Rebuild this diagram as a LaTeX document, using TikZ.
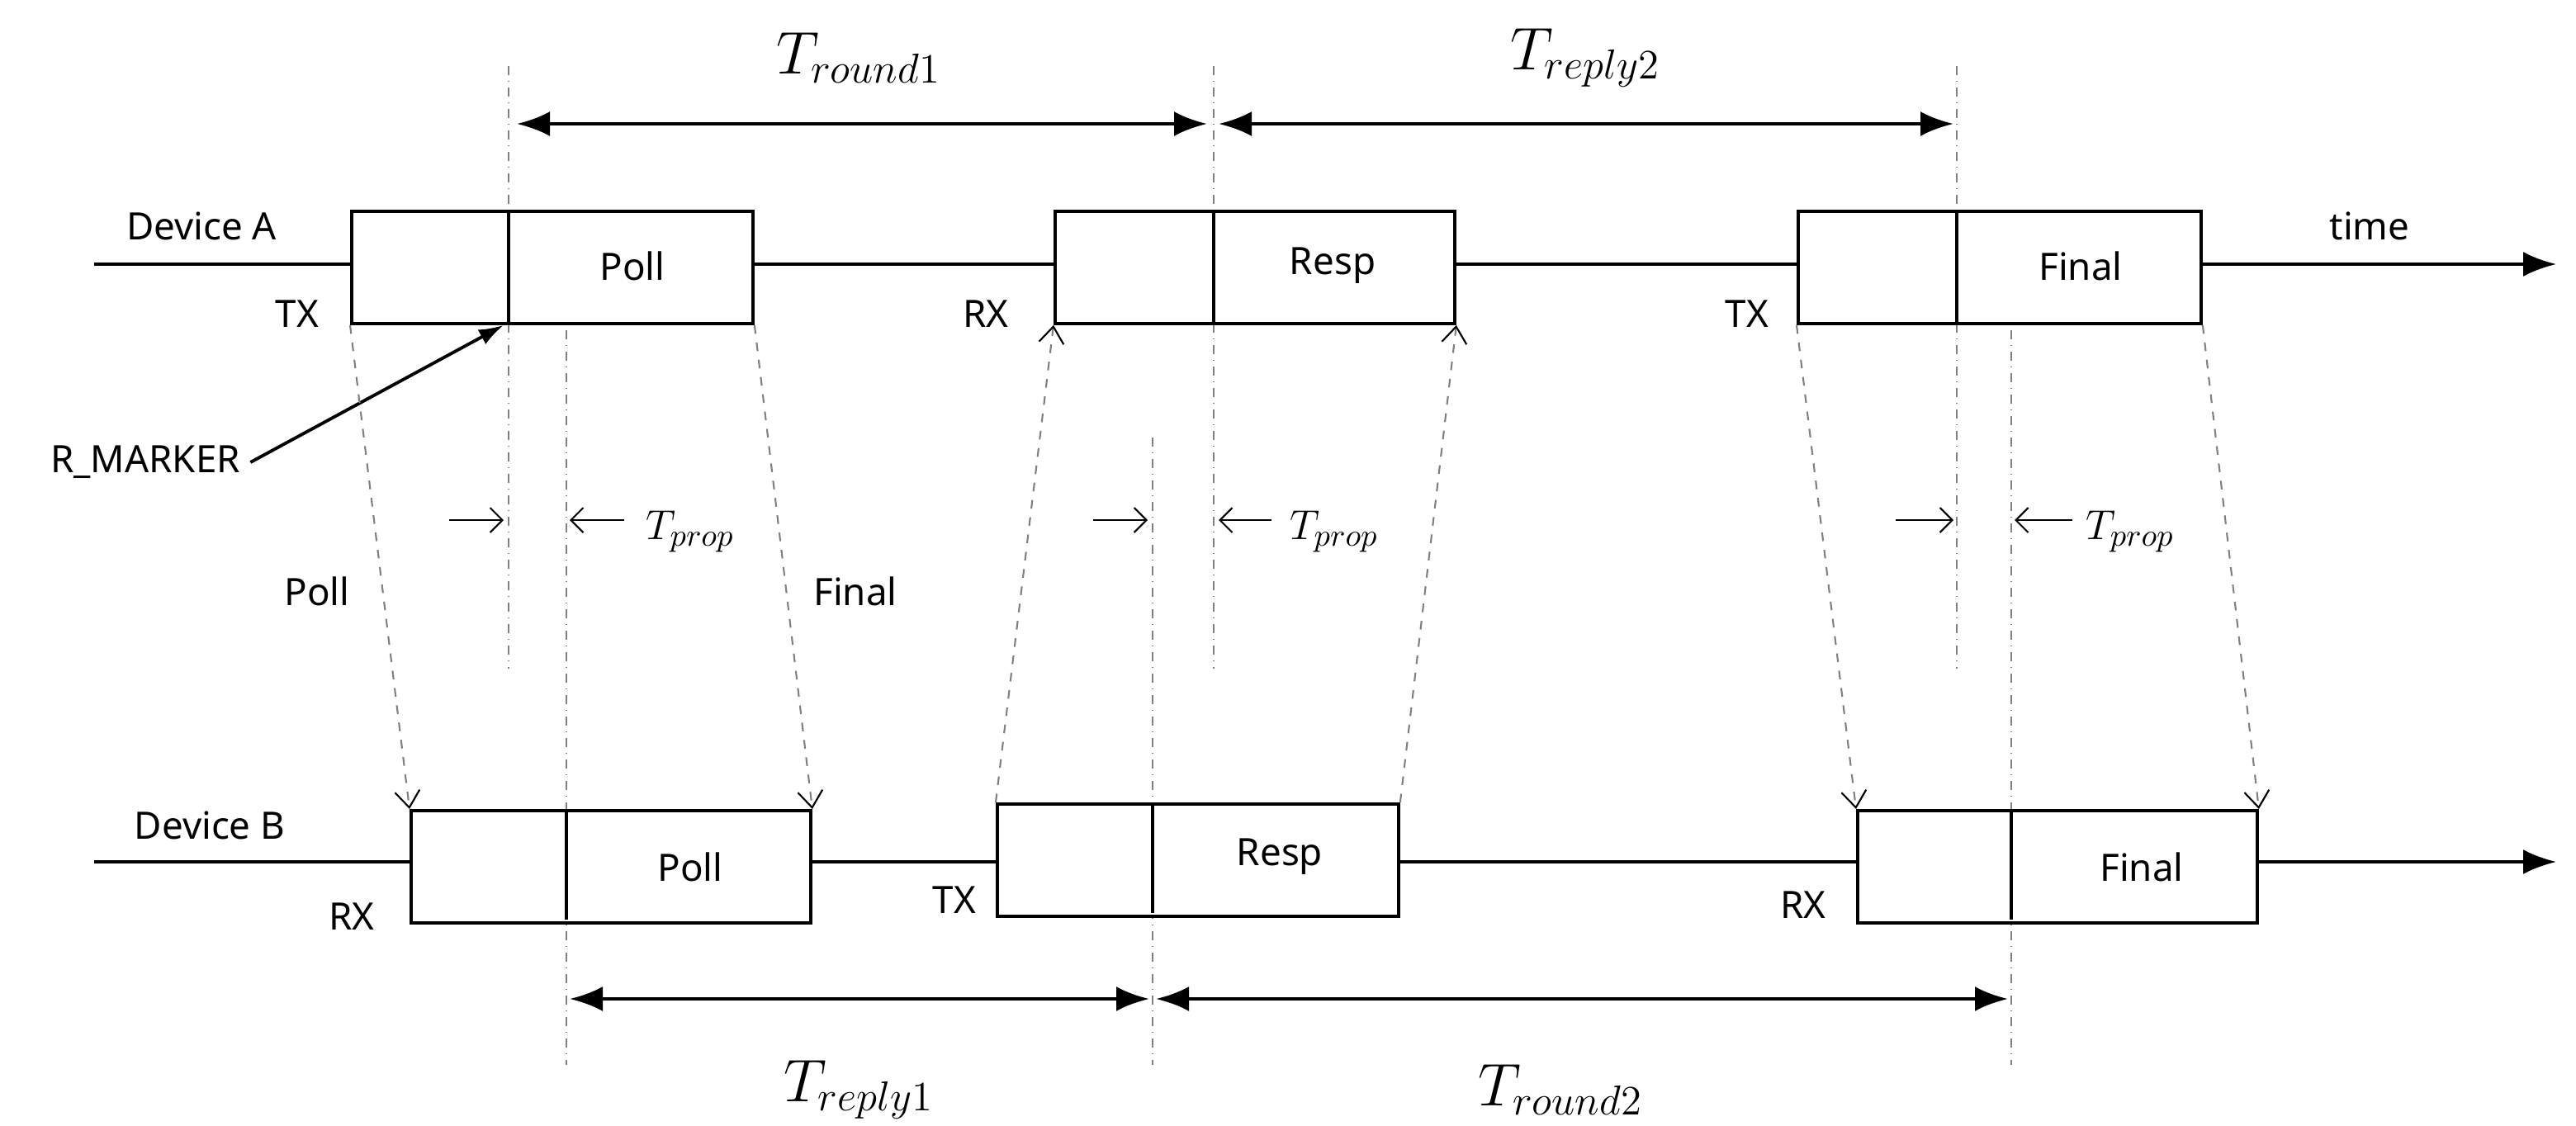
\documentclass[tikz,border=0pt]{standalone}
\usepackage{fontspec}
\setmainfont{Noto Sans}
\usetikzlibrary{arrows.meta}
\begin{document}
\begin{tikzpicture}[x=0.2mm,y=-0.2mm,
  box/.style={draw,line width=1.1pt,minimum height=13.6mm,inner sep=0pt,anchor=north west,fill=white},
  lbl/.style={font=\fontsize{13}{15}\selectfont},
  tl/.style={font=\fontsize{22}{24}\selectfont},
  vl/.style={gray,dash dot,line width=0.6pt},
  sl/.style={gray,dashed,line width=0.6pt,-{Straight Barb[length=2mm,width=3mm,black]}},
  dim/.style={line width=1.3pt,{Latex[length=4mm,width=3mm]}-{Latex[length=4mm,width=3mm]}},
  tp/.style={-{Straight Barb[length=1.5mm,width=3mm]},line width=0.6pt}]
\useasboundingbox (0,0) rectangle (1560,682);
% vertical dash-dot lines
\foreach \x in {308,735,1185}{\draw[vl] (\x,40) -- (\x,405);}
\foreach \x in {343,1218}{\draw[vl] (\x,200) -- (\x,645);}
\draw[vl] (698,265) -- (698,645);
% timelines
\coordinate (a0) at (57,160); \coordinate (a1) at (1548,160);
\coordinate (b0) at (57,522); \coordinate (b1) at (1548,522);
\draw[line width=1.1pt,-{Latex[length=4mm,width=3mm]}] (a0) -- (a1);
\draw[line width=1.1pt,-{Latex[length=4mm,width=3mm]}] (b0) -- (b1);
% boxes A
\node[box,minimum width=48.6mm] (pa) at (212,127) {};
\node[box,minimum width=48.4mm] (ra) at (638,127) {};
\node[box,minimum width=48.8mm] (fa) at (1088,127) {};
\draw[line width=1.1pt] (308,127) -- (308,195) (735,127)--(735,195) (1185,127)--(1185,195);
\node[lbl] at (383,161) {Poll};
\node[lbl] at (807,161) {Resp};
\node[lbl] at (1260,161) {Final};
% boxes B
\node[box,minimum width=48.4mm] (pb) at (248,490) {};
\node[box,minimum width=48.6mm] (rb) at (603,486) {};
\node[box,minimum width=48.4mm] (fb) at (1124,490) {};
\draw[line width=1.1pt] (343,490) -- (343,557) (698,486)--(698,553) (1218,490)--(1218,557);
\node[lbl] at (418,525) {Poll};
\node[lbl] at (775,519) {Resp};
\node[lbl] at (1297,525) {Final};
% labels
\node[lbl] at (122,137) {Device A};
\node[lbl] at (127,500) {Device B};
\node[lbl] at (180,190) {TX};
\node[lbl] at (597,190) {RX};
\node[lbl] at (1058,190) {TX};
\node[lbl] at (1435,137) {time};
\node[lbl] at (213,555) {RX};
\node[lbl] at (578,545) {TX};
\node[lbl] at (1092,548) {RX};
\node[lbl] at (192,358) {Poll};
\node[lbl] at (518,358) {Final};
\node[lbl] (rm) at (88,280) {R\_MARKER};
\draw[line width=1.1pt,-{Latex[length=3mm,width=2mm]}] (rm.east) -- (pa.south west -| 305,197);
% slanted
\draw[sl] (pa.south west) -- (pb.north west);
\draw[sl] (pa.south east) -- (pb.north east);
\draw[sl] (rb.north west) -- (ra.south west);
\draw[sl] (rb.north east) -- (ra.south east);
\draw[sl] (fa.south west) -- (fb.north west);
\draw[sl] (fa.south east) -- (fb.north east);
% dimension arrows
\coordinate (t1) at (313,75); \coordinate (t2) at (731,75); \coordinate (t3) at (738,75); \coordinate (t4) at (1183,75);
\draw[dim] (t1) -- (t2); \draw[dim] (t3) -- (t4);
\node[tl] at (520,35) {$T_{round1}$};
\node[tl] at (960,35) {$T_{reply2}$};
\coordinate (u1) at (345,605); \coordinate (u2) at (696,605); \coordinate (u3) at (700,605); \coordinate (u4) at (1216,605);
\draw[dim] (u1) -- (u2); \draw[dim] (u3) -- (u4);
\node[tl] at (520,660) {$T_{reply1}$};
\node[tl] at (945,660) {$T_{round2}$};
% Tprop
\foreach \a/\b/\c/\d/\l in {272/305/378/345/418, 662/695/770/738/808, 1148/1183/1255/1220/1290}{
  \draw[tp] (\a,315) -- (\b,315);
  \draw[tp] (\c,315) -- (\d,315);
  \node[font=\fontsize{15}{17}\selectfont] at (\l,322) {$T_{prop}$};
}
\end{tikzpicture}
\end{document}
